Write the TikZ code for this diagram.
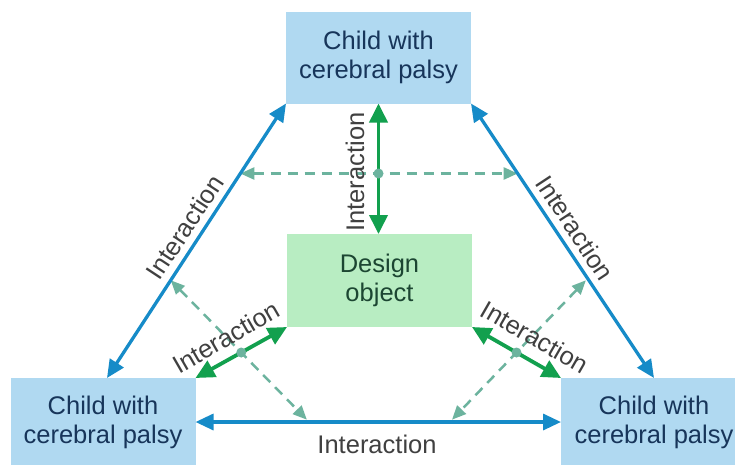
\documentclass[tikz,border=0pt]{standalone}
\usepackage{fontspec}
\setmainfont{Liberation Sans}
\usetikzlibrary{arrows.meta,calc}
\definecolor{boxblue}{HTML}{B0D9F1}
\definecolor{boxgreen}{HTML}{B8EDC2}
\definecolor{boxtext}{HTML}{17355A}
\definecolor{destext}{HTML}{1C4632}
\definecolor{arrblue}{HTML}{168BC8}
\definecolor{arrgreen}{HTML}{12A04E}
\definecolor{arrdash}{HTML}{6CB39E}
\definecolor{labtext}{HTML}{404040}
\begin{document}
\begin{tikzpicture}[x=1pt,y=-1pt,
  box/.style={rectangle, fill=boxblue, inner sep=0pt, outer sep=0pt, minimum width=185pt, minimum height=92pt, align=center, text=boxtext, font=\fontsize{25.5}{29}\selectfont},
  desbox/.style={box, fill=boxgreen, text=destext, minimum height=93pt},
  bluearr/.style={draw=arrblue, line width=3.3pt, {Triangle[length=18pt,width=16pt]}-{Triangle[length=18pt,width=16pt]}},
  greenarr/.style={draw=arrgreen, line width=3.8pt, {Triangle[length=19pt,width=18pt]}-{Triangle[length=19pt,width=18pt]}},
  dasharr/.style={draw=arrdash, line width=2.5pt, dash pattern=on 10pt off 7pt, {Triangle[length=14pt,width=12pt]}-{Triangle[length=14pt,width=12pt]}},
  dot/.style={circle, fill=arrdash, inner sep=0pt, minimum size=10pt},
  lab/.style={text=labtext, inner sep=0pt, font=\fontsize{25.5}{29}\selectfont}
]
\useasboundingbox[fill=white] (0,0) rectangle (735,464);

% boxes
\node[box] (top) at (378.5,57.5) {Child with\\cerebral palsy};
\node[desbox] (des) at (379.5,280.5) {Design\\object};
\node[box, minimum height=88pt] (bl) at (103,422) {Child with\\cerebral palsy};
\node[box, minimum width=186pt, minimum height=88pt] (br) at (654,422) {Child with\\cerebral palsy};

% helper coordinates on the blue lines
\coordinate (LA) at ([xshift=4pt]bl.north);
\coordinate (LB) at (top.south west);
\coordinate (RA) at (br.north);
\coordinate (RB) at (top.south east);

% dashed arrows (behind)
\coordinate (h1) at ($(LA)!0.745!(LB)$);
\coordinate (h2) at ($(RA)!0.745!(RB)$);
\draw[dasharr] (h1) -- (h2);

\coordinate (gm1) at ($(des.south west)!0.5!(bl.north east)$);
\coordinate (gm2) at ($(des.south east)!0.5!(br.north west)$);
\coordinate (d1) at ($(LA)!0.356!(LB)$);
\coordinate (d2) at ($(d1)!1.93!(gm1)$);
\coordinate (e1) at ([xshift=-3pt]$(RA)!0.356!(RB)$);
\coordinate (e2) at ($(e1)!1.93!(gm2)$);
\draw[dasharr] (d1) -- (d2);
\draw[dasharr] (e1) -- (e2);

% blue arrows
\draw[bluearr] (LA) -- (LB);
\draw[bluearr] (RA) -- (RB);
\draw[bluearr] (bl.east) -- (br.west);

% green arrows
\draw[greenarr] (top.south) -- (top.south |- des.north);
\draw[greenarr] (des.south west) -- (bl.north east);
\draw[greenarr] (des.south east) -- (br.north west);

% dots
\node[dot] (dt1) at (top.south |- h1) {};
\node[dot] (dt2) at (gm1) {};
\node[dot] (dt3) at (gm2) {};

% labels
\node[lab, rotate=90] (lv) at (355,172) {Interaction};
\node[lab, rotate=56.6] (ll) at (185,227) {Interaction};
\node[lab, rotate=-56.6] (lr) at (575,228) {Interaction};
\node[lab] (lb) at (377,444) {Interaction};
\node[lab, rotate=30] (lgl) at (226,337) {Interaction};
\node[lab, rotate=-30] (lgr) at (535,337) {Interaction};
\end{tikzpicture}
\end{document}
